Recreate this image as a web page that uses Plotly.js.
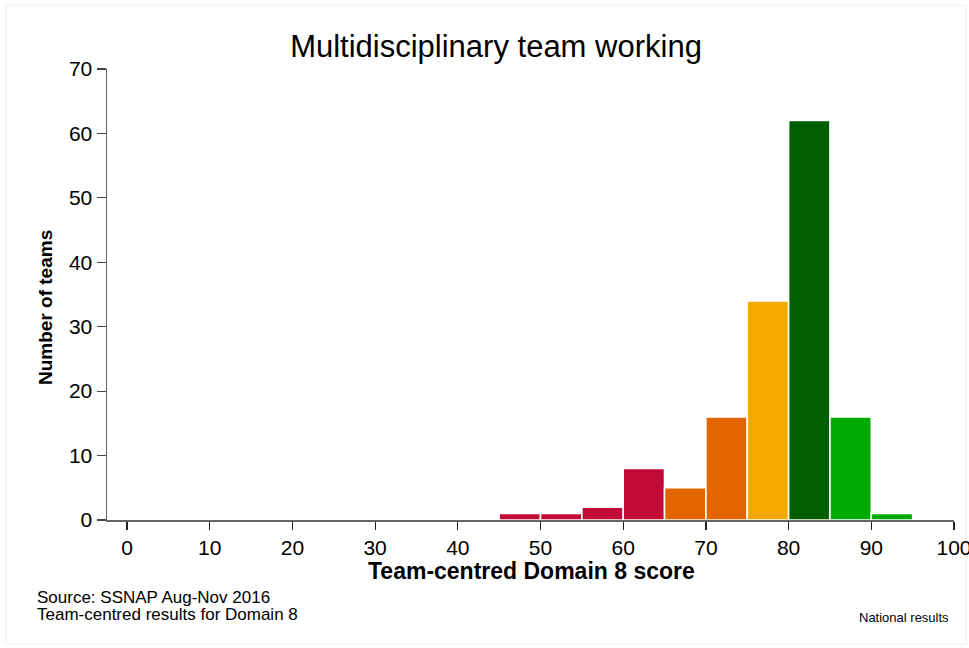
<!DOCTYPE html>
<html>
<head>
<meta charset="utf-8">
<script src="https://cdn.plot.ly/plotly-3.0.1.min.js"></script>
<style>html,body{margin:0;padding:0;background:#fff;}#chart{width:969px;height:648px;}</style>
</head>
<body>
<div id="chart"></div>
<script>
// Histogram bins (lower edge of each 5-point bin) and number of teams
var binStart = [45, 50, 55, 60, 65, 70, 75, 80, 85, 90];
var binWidth = 5;
var teamCounts = [1, 1, 2, 8, 5, 16, 34, 62, 16, 1];
var barColors = ['#C20A36', '#C20A36', '#C20A36', '#C20A36', '#E36500', '#E36500', '#F7A800', '#005E00', '#00AA00', '#00AA00'];
var xTicks = [0, 10, 20, 30, 40, 50, 60, 70, 80, 90, 100];
var yTicks = [0, 10, 20, 30, 40, 50, 60, 70];

var FONT = 'Liberation Sans, Arial, sans-serif';
var L = 107, R = 15, T = 69, B = 128, W = 969, H = 648;
var pw = W - L - R, ph = H - T - B;
function px2x(p) { return (p - L) / pw; }
function py2y(p) { return (H - B - p) / ph; }

var centers = binStart.map(function (s) { return s + binWidth / 2; });

var trace = {
  type: 'bar',
  x: centers,
  y: teamCounts,
  width: binStart.map(function () { return binWidth; }),
  marker: { color: barColors, line: { color: '#ffffff', width: 1.6 } },
  hoverinfo: 'x+y'
};

var layout = {
  width: W, height: H,
  margin: { l: L, r: R, t: T, b: B, pad: 0 },
  paper_bgcolor: '#ffffff',
  plot_bgcolor: '#ffffff',
  showlegend: false,
  font: { family: FONT, color: '#000000' },
  title: {
    text: 'Multidisciplinary team working',
    font: { family: FONT, size: 31, color: '#000000' },
    x: 496 / W, xref: 'container', xanchor: 'center',
    y: 1 - 46 / H, yref: 'container', yanchor: 'middle'
  },
  xaxis: {
    range: [-2.42, 100],
    tickmode: 'array', tickvals: xTicks, ticktext: xTicks.map(String),
    ticks: 'outside', ticklen: 8, tickwidth: 1.2, tickcolor: '#222222',
    showline: true, linecolor: '#666666', linewidth: 1.5,
    showgrid: false, zeroline: false,
    ticklabeloverflow: 'allow',
    tickfont: { family: FONT, size: 21, color: '#000000' },
    automargin: false, fixedrange: true
  },
  yaxis: {
    range: [0, 70],
    tickmode: 'array', tickvals: yTicks, ticktext: yTicks.map(String),
    ticks: 'outside', ticklen: 9, tickwidth: 1.2, tickcolor: '#444444',
    showline: true, linecolor: '#666666', linewidth: 1.5,
    showgrid: false, zeroline: false,
    tickfont: { family: FONT, size: 21, color: '#000000' },
    automargin: false, fixedrange: true
  },
  shapes: [
    { type: 'rect', xref: 'paper', yref: 'paper', x0: px2x(6), x1: px2x(966), y0: py2y(644), y1: py2y(5),
      line: { color: '#eeeeee', width: 1 }, fillcolor: 'rgba(0,0,0,0)', layer: 'below' }
  ],
  annotations: [
    { text: '<b>Team-centred Domain 8 score</b>', xref: 'paper', yref: 'paper',
      x: px2x(531), y: py2y(571), xanchor: 'center', yanchor: 'middle', showarrow: false,
      font: { family: FONT, size: 23, color: '#000000' } },
    { text: '<b>Number of teams</b>', xref: 'paper', yref: 'paper', textangle: -90,
      x: px2x(45), y: py2y(308), xanchor: 'center', yanchor: 'middle', showarrow: false,
      font: { family: FONT, size: 19, color: '#000000' } },
    { text: 'Source: SSNAP Aug-Nov 2016', xref: 'paper', yref: 'paper',
      x: px2x(35), y: py2y(597), xanchor: 'left', yanchor: 'middle', align: 'left', showarrow: false,
      font: { family: FONT, size: 17, color: '#000000' } },
    { text: 'Team-centred results for Domain 8', xref: 'paper', yref: 'paper',
      x: px2x(35), y: py2y(614), xanchor: 'left', yanchor: 'middle', align: 'left', showarrow: false,
      font: { family: FONT, size: 17, color: '#000000' } },
    { text: 'National results', xref: 'paper', yref: 'paper',
      x: px2x(951), y: py2y(617), xanchor: 'right', yanchor: 'middle', showarrow: false,
      font: { family: FONT, size: 13, color: '#000000' } }
  ]
};

Plotly.newPlot('chart', [trace], layout, { displayModeBar: false, staticPlot: true });
</script>
</body>
</html>
